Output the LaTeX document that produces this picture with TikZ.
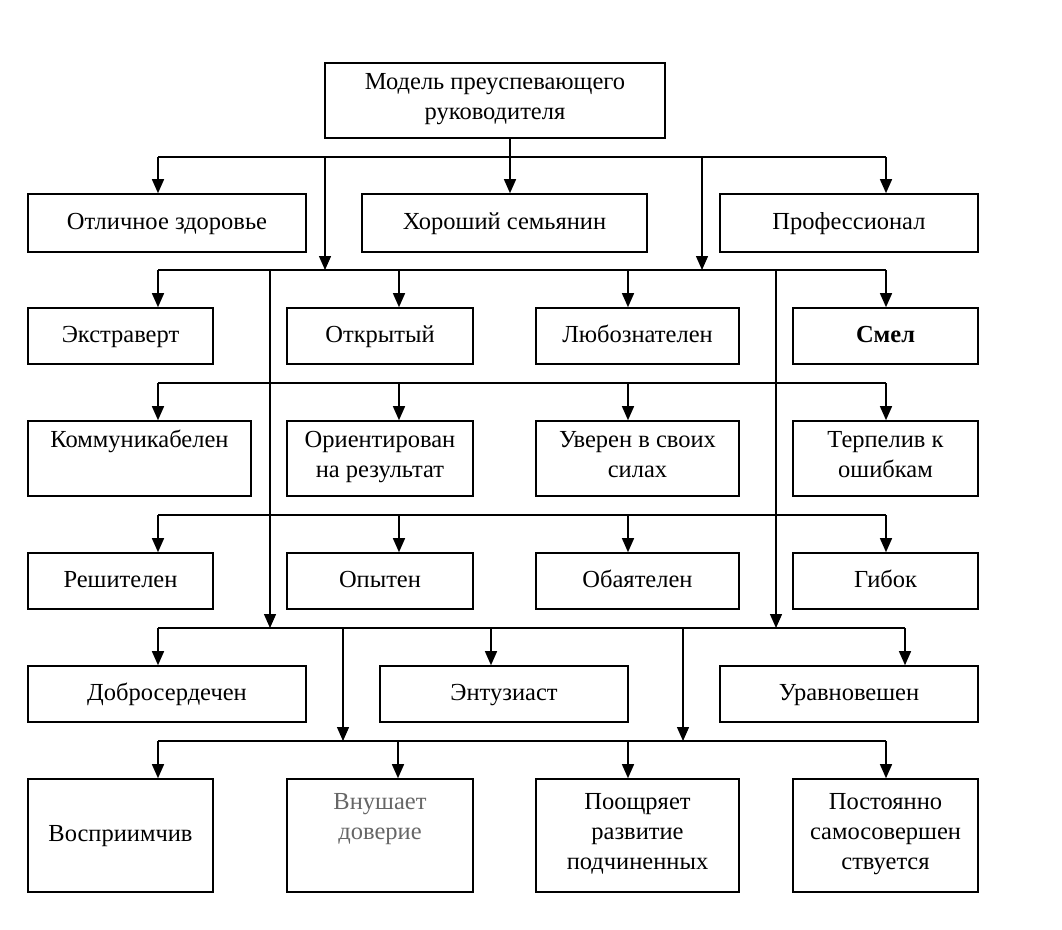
\documentclass[tikz,border=0pt]{standalone}
\usepackage{fontspec}
\setmainfont{Liberation Serif}
\usetikzlibrary{arrows.meta}
\begin{document}
\begin{tikzpicture}[x=1pt,y=-1pt,
  box/.style={draw,line width=1.6pt,rectangle,inner sep=0pt,align=center,
    font=\fontsize{24.5}{30}\selectfont,
    execute at begin node=\strut, execute at end node=\strut},
  ln/.style={line width=1.4pt},
  arr/.style={line width=1.4pt,-{Triangle[length=14pt,width=12pt]}}]
\useasboundingbox (0,0) rectangle (1062,929);
% nodes
\node[box,minimum width=340pt,minimum height=75pt] (top) at (495,100.5) {Модель преуспевающего\\руководителя};
\node[box,minimum width=278pt,minimum height=58pt] (zdor) at (167,223) {Отличное здоровье};
\node[box,minimum width=285pt,minimum height=58pt] (semya) at (504.5,223) {Хороший семьянин};
\node[box,minimum width=258pt,minimum height=58pt] (prof) at (849,223) {Профессионал};
\node[box,minimum width=185pt,minimum height=56pt] (ekstr) at (120.5,336) {Экстраверт};
\node[box,minimum width=186pt,minimum height=56pt] (otkr) at (380,336) {Открытый};
\node[box,minimum width=203pt,minimum height=56pt] (lyub) at (637.5,336) {Любознателен};
\node[box,minimum width=185pt,minimum height=56pt] (smel) at (885.5,336) {\textbf{Смел}};
\node[box,minimum width=223pt,minimum height=75pt] (komm) at (139.5,458.5) {Коммуникабелен\\ };
\node[box,minimum width=186pt,minimum height=75pt] (orient) at (380,458.5) {Ориентирован\\на результат};
\node[box,minimum width=203pt,minimum height=75pt] (uver) at (637.5,458.5) {Уверен в своих\\силах};
\node[box,minimum width=185pt,minimum height=75pt] (terp) at (885.5,458.5) {Терпелив к\\ошибкам};
\node[box,minimum width=185pt,minimum height=56pt] (resh) at (120.5,581) {Решителен};
\node[box,minimum width=186pt,minimum height=56pt] (opyt) at (380,581) {Опытен};
\node[box,minimum width=203pt,minimum height=56pt] (obay) at (637.5,581) {Обаятелен};
\node[box,minimum width=185pt,minimum height=56pt] (gibok) at (885.5,581) {Гибок};
\node[box,minimum width=278pt,minimum height=56pt] (dobro) at (167,694) {Добросердечен};
\node[box,minimum width=248pt,minimum height=56pt] (entuz) at (504,694) {Энтузиаст};
\node[box,minimum width=258pt,minimum height=56pt] (uravn) at (849,694) {Уравновешен};
\node[box,minimum width=185pt,minimum height=113pt] (vospr) at (120.5,835.5) {Восприимчив};
\node[box,minimum width=186pt,minimum height=113pt,text=black!60] (vnush) at (380,835.5) {Внушает\\доверие\\ };
\node[box,minimum width=203pt,minimum height=113pt] (poo) at (637.5,835.5) {Поощряет\\развитие\\подчиненных};
\node[box,minimum width=185pt,minimum height=113pt] (post) at (885.5,835.5) {Постоянно\\самосовершен\\ствуется};
% bus coordinates
\coordinate (b1s) at (510,157);
\coordinate (b1l) at (158,157);
\coordinate (b1r) at (886,157);
\coordinate (b1a) at (325,157);
\coordinate (b1b) at (702,157);
\coordinate (b2l) at (158,270);
\coordinate (b2r) at (886,270);
\coordinate (b2a) at (270,270);
\coordinate (b2b) at (776,270);
\coordinate (b2c) at (399,270);
\coordinate (b2d) at (628,270);
\coordinate (b3l) at (158,383);
\coordinate (b3r) at (886,383);
\coordinate (b3c) at (399,383);
\coordinate (b3d) at (628,383);
\coordinate (b4l) at (158,515);
\coordinate (b4r) at (886,515);
\coordinate (b4c) at (399,515);
\coordinate (b4d) at (628,515);
\coordinate (b5l) at (158,628);
\coordinate (b5r) at (905,628);
\coordinate (b5a) at (270,628);
\coordinate (b5b) at (776,628);
\coordinate (b5c) at (491,628);
\coordinate (b5e) at (343,628);
\coordinate (b5f) at (683,628);
\coordinate (b6l) at (158,741);
\coordinate (b6r) at (886,741);
\coordinate (b6a) at (343,741);
\coordinate (b6b) at (683,741);
\coordinate (b6c) at (398,741);
\coordinate (b6d) at (628,741);
% level 1
\draw[ln] (top.south -| b1s) -- (b1s);
\draw[ln] (b1l) -- (b1r);
\draw[arr] (b1l) -- (zdor.north -| b1l);
\draw[arr] (b1s) -- (semya.north -| b1s);
\draw[arr] (b1r) -- (prof.north -| b1r);
\draw[arr] (b1a) -- (b1a |- b2l);
\draw[arr] (b1b) -- (b1b |- b2l);
% level 2
\draw[ln] (b2l) -- (b2r);
\draw[arr] (b2l) -- (ekstr.north -| b2l);
\draw[arr] (b2c) -- (otkr.north -| b2c);
\draw[arr] (b2d) -- (lyub.north -| b2d);
\draw[arr] (b2r) -- (smel.north -| b2r);
\draw[arr] (b2a) -- (b5a);
\draw[arr] (b2b) -- (b5b);
% level 3
\draw[ln] (b3l) -- (b3r);
\draw[arr] (b3l) -- (komm.north -| b3l);
\draw[arr] (b3c) -- (orient.north -| b3c);
\draw[arr] (b3d) -- (uver.north -| b3d);
\draw[arr] (b3r) -- (terp.north -| b3r);
% level 4
\draw[ln] (b4l) -- (b4r);
\draw[arr] (b4l) -- (resh.north -| b4l);
\draw[arr] (b4c) -- (opyt.north -| b4c);
\draw[arr] (b4d) -- (obay.north -| b4d);
\draw[arr] (b4r) -- (gibok.north -| b4r);
% level 5
\draw[ln] (b5l) -- (b5r);
\draw[arr] (b5l) -- (dobro.north -| b5l);
\draw[arr] (b5c) -- (entuz.north -| b5c);
\draw[arr] (b5r) -- (uravn.north -| b5r);
\draw[arr] (b5e) -- (b6a);
\draw[arr] (b5f) -- (b6b);
% level 6
\draw[ln] (b6l) -- (b6r);
\draw[arr] (b6l) -- (vospr.north -| b6l);
\draw[arr] (b6c) -- (vnush.north -| b6c);
\draw[arr] (b6d) -- (poo.north -| b6d);
\draw[arr] (b6r) -- (post.north -| b6r);
\end{tikzpicture}
\end{document}
